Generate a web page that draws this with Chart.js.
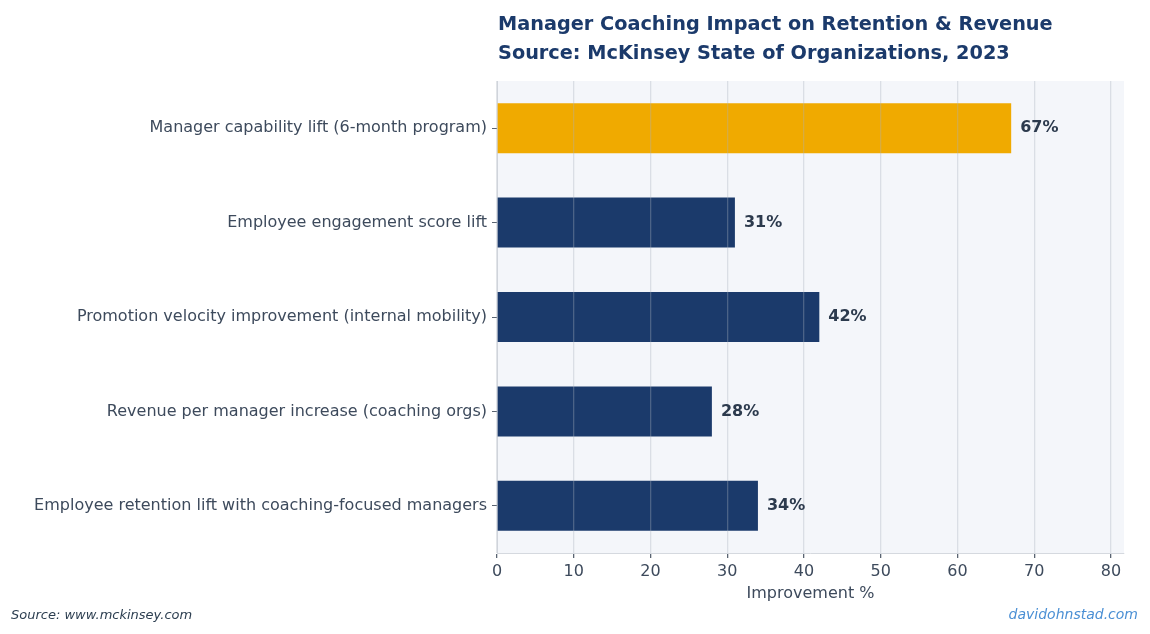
<!DOCTYPE html>
<html>
<head>
<meta charset="utf-8">
<script src="https://cdn.jsdelivr.net/npm/chart.js@4.4.0/dist/chart.umd.min.js"></script>
<style>
  body { margin: 0; background: #ffffff; }
  canvas { display: block; }
</style>
</head>
<body>
<canvas id="grafico" width="1150" height="634"></canvas>
<script>
// dados do grafico (de cima para baixo)
var categorias = [
    'Manager capability lift (6-month program)',
    'Employee engagement score lift',
    'Promotion velocity improvement (internal mobility)',
    'Revenue per manager increase (coaching orgs)',
    'Employee retention lift with coaching-focused managers'
];
var valores = [67, 31, 42, 28, 34];
var coresBarras = ['#f0aa00', '#1b3a6b', '#1b3a6b', '#1b3a6b', '#1b3a6b'];
var ticksX = [0, 10, 20, 30, 40, 50, 60, 70, 80];

var tituloLinhas = [
    'Manager Coaching Impact on Retention & Revenue',
    'Source: McKinsey State of Organizations, 2023'
];

// fundo da area do grafico
var fundoPlugin = {
    id: 'fundo',
    beforeDraw: function (chart) {
        var ctx = chart.ctx, a = chart.chartArea;
        ctx.save();
        ctx.fillStyle = '#f4f6fa';
        ctx.fillRect(a.left, a.top, a.right - a.left, a.bottom - a.top);
        ctx.restore();
    }
};

// rotulos de valor, titulo e rodape
var textosPlugin = {
    id: 'textos',
    afterDraw: function (chart) {
        var ctx = chart.ctx, a = chart.chartArea;
        var meta = chart.getDatasetMeta(0);
        ctx.save();
        ctx.font = 'bold 16px "DejaVu Sans"';
        ctx.fillStyle = '#2c3a4d';
        ctx.textAlign = 'left';
        ctx.textBaseline = 'middle';
        meta.data.forEach(function (bar, i) {
            ctx.fillText(valores[i] + '%', bar.x + 9, bar.y);
        });

        // titulo
        ctx.font = 'bold 19.3px "DejaVu Sans"';
        ctx.fillStyle = '#1b3a6b';
        ctx.textBaseline = 'alphabetic';
        tituloLinhas.forEach(function (linha, i) {
            ctx.fillText(linha, a.left + 1, 30 + i * 29);
        });

        // rodape
        ctx.font = 'oblique 13px "DejaVu Sans"';
        ctx.fillStyle = '#2c3e50';
        ctx.fillText('Source: www.mckinsey.com', 11, 619);
        ctx.font = 'oblique 14px "DejaVu Sans"';
        ctx.fillStyle = '#4a8fd4';
        ctx.textAlign = 'right';
        ctx.fillText('davidohnstad.com', 1138, 619);
        ctx.restore();
    }
};

var ctxGrafico = document.getElementById('grafico').getContext('2d');

var grafico = new Chart(ctxGrafico, {
    type: 'bar',
    data: {
        labels: categorias,
        datasets: [{
            data: valores,
            backgroundColor: coresBarras,
            borderWidth: 0,
            barPercentage: 0.53,
            categoryPercentage: 1
        }]
    },
    options: {
        indexAxis: 'y',
        responsive: false,
        animation: false,
        layout: {
            padding: { left: 0, right: 26, top: 81, bottom: 0 }
        },
        scales: {
            x: {
                min: 0,
                max: 81.7,
                afterFit: function (scale) { scale.height = 81; },
                afterBuildTicks: function (scale) {
                    scale.ticks = ticksX.map(function (v) { return { value: v }; });
                },
                grid: {
                    z: 1,
                    color: 'rgba(170,178,190,0.35)',
                    lineWidth: 1.3,
                    tickLength: 5,
                    tickColor: '#5a6472',
                    drawTicks: true
                },
                border: { display: true, color: '#d5d9df', z: 1 },
                ticks: {
                    color: '#3d4a5c',
                    font: { family: 'DejaVu Sans', size: 16 },
                    padding: 4,
                    maxRotation: 0
                },
                title: {
                    display: true,
                    text: 'Improvement %',
                    color: '#3d4a5c',
                    font: { family: 'DejaVu Sans', size: 16 },
                    padding: { top: 0, bottom: 31 }
                }
            },
            y: {
                afterFit: function (scale) { scale.width = 497; },
                grid: {
                    drawOnChartArea: false,
                    offset: false,
                    tickLength: 5,
                    tickColor: '#5a6472'
                },
                border: { display: true, color: '#d5d9df' },
                ticks: {
                    color: '#3d4a5c',
                    font: { family: 'DejaVu Sans', size: 16 },
                    padding: 5
                }
            }
        },
        plugins: {
            legend: { display: false },
            tooltip: { enabled: false }
        }
    },
    plugins: [fundoPlugin, textosPlugin]
});
</script>
</body>
</html>
